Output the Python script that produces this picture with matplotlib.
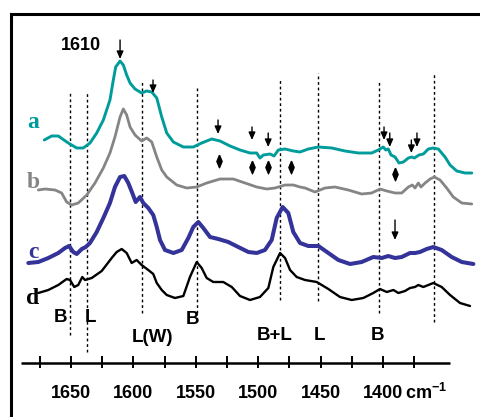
import numpy as np
import matplotlib
matplotlib.use("Agg")
import matplotlib.pyplot as plt
from matplotlib.lines import Line2D

plt.rcParams['font.family'] = ['Liberation Sans', 'DejaVu Sans']
plt.rcParams['mathtext.fontset'] = 'custom'
plt.rcParams['mathtext.bf'] = 'Liberation Sans:bold'
plt.rcParams['mathtext.rm'] = 'Liberation Sans:bold'

# spectra (wavenumber in cm-1, absorbance offset, a.u.)
wn_a = [1671.4, 1665.5, 1660.2, 1652.2, 1645.4, 1640.2, 1634.8, 1629.4, 1624.1, 1618.8,
        1616.1, 1614.2, 1610.7, 1608.1, 1605.4, 1602.7, 1598.7, 1593.4, 1589.4, 1585.3,
        1581.3, 1577.3, 1573.3, 1568.0, 1560.0, 1552.0, 1545.3, 1537.3, 1530.6, 1522.6,
        1514.6, 1506.6, 1501.2, 1498.6, 1495.9, 1490.5, 1487.3, 1483.9, 1478.5, 1471.9,
        1466.5, 1459.9, 1451.8, 1441.1, 1430.5, 1419.8, 1409.1, 1403.8, 1399.8, 1397.8,
        1395.8, 1393.6, 1390.4, 1387.2, 1383.7, 1379.7, 1377.0, 1374.9, 1371.2, 1367.7,
        1363.7, 1359.7, 1355.7, 1350.3, 1346.3, 1340.9, 1334.3, 1328.9]
abs_a = [2.77, 2.81, 2.81, 2.74, 2.69, 2.69, 2.74, 2.84, 2.97, 3.17,
         3.37, 3.50, 3.56, 3.52, 3.42, 3.34, 3.28, 3.24, 3.26, 3.25,
         3.19, 3.00, 2.84, 2.75, 2.70, 2.70, 2.74, 2.78, 2.76, 2.71,
         2.67, 2.64, 2.64, 2.59, 2.62, 2.63, 2.61, 2.67, 2.68, 2.66,
         2.65, 2.68, 2.70, 2.69, 2.66, 2.64, 2.64, 2.67, 2.70, 2.67,
         2.68, 2.62, 2.60, 2.54, 2.55, 2.59, 2.60, 2.59, 2.62, 2.63,
         2.68, 2.69, 2.68, 2.60, 2.52, 2.46, 2.44, 2.44]

wn_b = [1676.2, 1670.8, 1662.8, 1657.5, 1653.5, 1649.4, 1644.2, 1637.4, 1630.8, 1624.1,
        1618.8, 1614.8, 1610.7, 1608.1, 1605.4, 1602.7, 1598.7, 1593.4, 1589.4, 1585.3,
        1581.3, 1577.3, 1573.3, 1565.3, 1557.3, 1549.3, 1541.3, 1530.6, 1520.0, 1510.6,
        1501.2, 1493.2, 1486.5, 1478.5, 1471.9, 1466.5, 1462.5, 1454.5, 1446.5, 1438.5,
        1427.8, 1417.1, 1409.1, 1402.4, 1397.0, 1390.4, 1385.0, 1379.7, 1376.5, 1374.4,
        1371.7, 1369.6, 1366.3, 1362.3, 1358.9, 1354.3, 1349.0, 1343.7, 1336.9, 1328.9]
abs_b = [2.27, 2.28, 2.27, 2.24, 2.15, 2.12, 2.14, 2.22, 2.34, 2.49,
         2.64, 2.80, 3.00, 3.08, 3.02, 2.90, 2.82, 2.76, 2.79, 2.75,
         2.60, 2.47, 2.40, 2.32, 2.29, 2.30, 2.34, 2.38, 2.38, 2.34,
         2.30, 2.28, 2.29, 2.32, 2.32, 2.30, 2.29, 2.25, 2.29, 2.30,
         2.27, 2.23, 2.24, 2.28, 2.26, 2.24, 2.24, 2.30, 2.32, 2.29,
         2.34, 2.30, 2.34, 2.38, 2.40, 2.37, 2.29, 2.20, 2.14, 2.13]

wn_c = [1684.2, 1676.2, 1668.2, 1660.2, 1654.8, 1651.6, 1648.2, 1645.4, 1641.4, 1638.2,
        1634.8, 1629.4, 1624.1, 1618.8, 1614.8, 1610.7, 1607.3, 1604.1, 1600.9, 1598.2,
        1594.7, 1592.1, 1588.1, 1584.1, 1581.3, 1578.7, 1574.7, 1568.0, 1561.3, 1556.0,
        1552.0, 1548.0, 1544.0, 1538.6, 1532.0, 1524.0, 1516.0, 1507.9, 1501.2, 1494.6,
        1489.2, 1485.2, 1480.4, 1475.9, 1471.9, 1466.5, 1459.9, 1451.8, 1443.8, 1435.8,
        1426.4, 1417.1, 1407.8, 1401.0, 1395.8, 1390.4, 1385.0, 1378.4, 1374.4, 1370.4,
        1365.0, 1359.7, 1353.0, 1345.0, 1336.9, 1327.6]
abs_c = [1.54, 1.55, 1.59, 1.64, 1.69, 1.71, 1.65, 1.63, 1.68, 1.70,
         1.74, 1.85, 1.99, 2.14, 2.30, 2.40, 2.41, 2.34, 2.24, 2.15,
         2.20, 2.14, 2.09, 2.02, 1.90, 1.77, 1.67, 1.64, 1.67, 1.79,
         1.90, 1.95, 1.89, 1.80, 1.78, 1.75, 1.70, 1.65, 1.64, 1.67,
         1.77, 1.99, 2.10, 2.04, 1.85, 1.74, 1.71, 1.71, 1.64, 1.57,
         1.53, 1.55, 1.60, 1.59, 1.61, 1.59, 1.60, 1.64, 1.64, 1.65,
         1.68, 1.70, 1.67, 1.60, 1.55, 1.53]

wn_d = [1676.2, 1668.2, 1660.2, 1653.5, 1650.8, 1647.4, 1644.2, 1641.0, 1638.8, 1633.4,
        1625.4, 1617.4, 1613.4, 1609.4, 1605.4, 1601.4, 1597.4, 1593.4, 1588.1, 1584.1,
        1581.3, 1577.3, 1573.3, 1566.7, 1560.0, 1554.7, 1549.3, 1545.3, 1541.3, 1536.0,
        1528.0, 1521.2, 1514.6, 1506.6, 1498.6, 1491.9, 1487.9, 1482.5, 1478.5, 1474.5,
        1469.2, 1462.5, 1453.1, 1443.8, 1434.5, 1425.1, 1415.8, 1407.8, 1402.4, 1397.0,
        1391.7, 1387.7, 1382.4, 1378.4, 1374.4, 1371.7, 1367.7, 1363.7, 1359.7, 1353.0,
        1346.3, 1338.3, 1330.3]
abs_d = [1.24, 1.27, 1.32, 1.38, 1.37, 1.30, 1.32, 1.40, 1.37, 1.39,
         1.46, 1.59, 1.65, 1.68, 1.64, 1.54, 1.57, 1.52, 1.47, 1.43,
         1.34, 1.27, 1.22, 1.19, 1.21, 1.40, 1.55, 1.49, 1.39, 1.35,
         1.35, 1.30, 1.21, 1.17, 1.20, 1.29, 1.50, 1.64, 1.59, 1.47,
         1.40, 1.37, 1.35, 1.28, 1.20, 1.17, 1.19, 1.24, 1.28, 1.25,
         1.27, 1.24, 1.26, 1.29, 1.30, 1.32, 1.30, 1.32, 1.34, 1.30,
         1.22, 1.14, 1.11]

# band assignment lines
band_wn = [1651, 1637, 1593, 1549, 1482.5, 1452, 1403, 1359]
band_top = [3.24, 3.24, 3.37, 3.30, 3.37, 3.44, 3.37, 3.44]
band_bottom = [0.82, 0.65, 1.04, 1.04, 1.17, 1.16, 1.04, 0.95]

band_labels = ['B', 'L', 'L(W)', 'B', 'B+L', 'L', 'B']
band_label_wn = [1658.8, 1634.0, 1585.1, 1553.0, 1486.5, 1451.3, 1404.8]
band_label_y = [0.99, 0.99, 0.80, 0.97, 0.82, 0.82, 0.82]

# arrows (wavenumber, start, end) and diamonds
arrow_wn = [1610.7, 1584.3, 1532.2, 1505.0, 1492.0, 1399.2, 1394.6, 1377.3, 1372.8, 1390.4]
arrow_y0 = [3.77, 3.37, 2.97, 2.90, 2.84, 2.90, 2.84, 2.77, 2.84, 1.97]
arrow_y1 = [3.58, 3.24, 2.83, 2.77, 2.70, 2.77, 2.70, 2.64, 2.70, 1.77]
diamond_wn = [1531.4, 1505.2, 1491.9, 1474.0, 1390.4]
diamond_y = [2.56, 2.50, 2.50, 2.50, 2.43]

tick_wn = [1675, 1650, 1625, 1600, 1575, 1550, 1525, 1500, 1475, 1450, 1425, 1400, 1375]
tick_labels = ['1650', '1600', '1550', '1500', '1450', '1400']
tick_label_wn = [1650, 1600, 1550, 1500, 1450, 1400]

# name, x, y, colour, width, label height
series = [('a', wn_a, abs_a, '#009b9b', 2.1, 2.94),
          ('b', wn_b, abs_b, '#858585', 2.0, 2.34),
          ('c', wn_c, abs_c, '#333399', 2.9, 1.65),
          ('d', wn_d, abs_d, '#000000', 1.7, 1.19)]

fig = plt.figure(figsize=(4.8, 4.17), dpi=100)
ax = fig.add_axes([0, 0, 1, 1])
ax.set_xlim(1706.9, 1322.3)
ax.set_ylim(0, 4.17)
ax.axis('off')

# frame (left and top only visible)
fig.add_artist(Line2D([10.5/480, 10.5/480], [0, 1 - 13.5/417], color='black', lw=2.2,
                      transform=fig.transFigure, solid_capstyle='projecting'))
fig.add_artist(Line2D([10.5/480, 1.0], [1 - 13.5/417, 1 - 13.5/417], color='black', lw=2.2,
                      transform=fig.transFigure, solid_capstyle='projecting'))

for wn, t, b in zip(band_wn, band_top, band_bottom):
    ax.plot([wn, wn], [b, t], color='black', lw=1.0, ls=(0, (2, 2)))

for name, x, y, col, lw, ly in series:
    ax.plot(x, y, color=col, lw=lw, solid_joinstyle='round', solid_capstyle='round')
    ax.text(1680.5, ly, name, color=col, fontsize=17,
            fontweight='bold', family=['Liberation Serif', 'DejaVu Serif'],
            ha='center', va='center')

for wn, y0, y1 in zip(arrow_wn, arrow_y0, arrow_y1):
    ax.annotate('', xy=(wn, y1), xytext=(wn, y0),
                arrowprops=dict(arrowstyle='-|>,head_length=0.45,head_width=0.2',
                                color='black', lw=1.0, shrinkA=0, shrinkB=0))

diamond = [(0, 1), (0.42, 0), (0, -1), (-0.42, 0), (0, 1)]
ax.plot(diamond_wn, diamond_y, ls='none', marker=diamond, ms=9, color='black')

for lab, wn, y in zip(band_labels, band_label_wn, band_label_y):
    ax.text(wn, y, lab, fontsize=13.5, fontweight='bold', ha='center', va='center')

ax.text(1642.4, 3.71, '1610', fontsize=13, fontweight='bold', ha='center', va='center')

# bottom wavenumber axis
ax.hlines(0.54, 1690.1, 1346.3, color='black', lw=1.8)
ax.vlines(tick_wn, 0.49, 0.61, color='black', lw=1.4)
for lab, wn in zip(tick_labels, tick_label_wn):
    ax.text(wn, 0.24, lab, fontsize=13, fontweight='bold', ha='center', va='center')
ax.text(1382.5, 0.24, r'cm$^{-1}$', fontsize=13, fontweight='bold', ha='left', va='center')

fig.savefig('out.png', dpi=100)
